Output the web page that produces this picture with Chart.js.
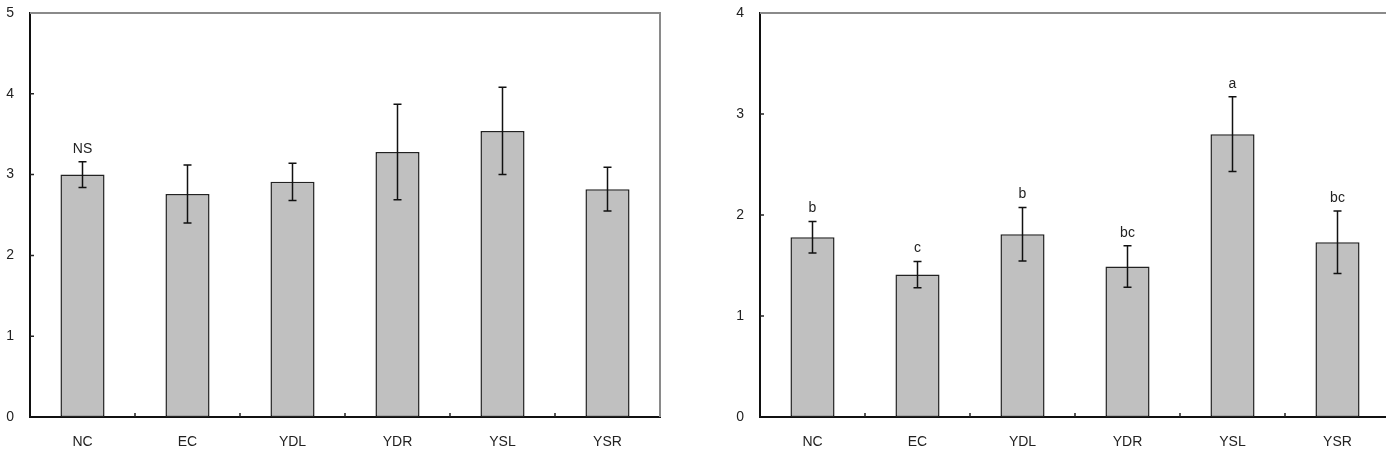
<!DOCTYPE html>
<html>
<head>
<meta charset="utf-8">
<script src="https://cdn.jsdelivr.net/npm/chart.js@4"></script>
<style>
  html, body { margin: 0; padding: 0; background: #fff; overflow: hidden; width: 1386px; height: 450px; }
  .panel { position: absolute; top: 0; width: 680px; height: 450px; }
  #left-panel { left: 0; }
  #right-panel { left: 730px; }
</style>
</head>
<body>
<div class="panel" id="left-panel"><canvas id="left-canvas"></canvas></div>
<div class="panel" id="right-panel"><canvas id="right-canvas"></canvas></div>
<script>
const categories = ["NC", "EC", "YDL", "YDR", "YSL", "YSR"];

const leftValues = [3.0, 2.76, 2.91, 3.28, 3.54, 2.82];
const leftErrors = [0.16, 0.36, 0.23, 0.59, 0.54, 0.27];
const leftLetters = ["NS", "", "", "", "", ""];
const leftTicks = [0, 1, 2, 3, 4, 5];

const rightValues = [1.78, 1.41, 1.81, 1.49, 2.80, 1.73];
const rightErrors = [0.155, 0.13, 0.265, 0.205, 0.37, 0.31];
const rightLetters = ["b", "c", "b", "bc", "a", "bc"];
const rightTicks = [0, 1, 2, 3, 4];

Chart.defaults.font.family = "'Liberation Sans', Arial, sans-serif";
Chart.defaults.font.size = 14;
Chart.defaults.color = "#222";

// error bars, letters, inside tick marks and the grey top/right frame
const decorations = {
  id: "decorations",
  afterDatasetsDraw(chart, args, opts) {
    const ctx = chart.ctx;
    const area = chart.chartArea;
    const x = chart.scales.x;
    const y = chart.scales.y;
    const values = chart.data.datasets[0].data;

    ctx.save();
    // frame top / right
    ctx.strokeStyle = "#8a8a8a";
    ctx.lineWidth = 2;
    ctx.beginPath();
    ctx.moveTo(area.left, area.top);
    ctx.lineTo(area.right, area.top);
    ctx.lineTo(area.right, area.bottom);
    ctx.stroke();

    // inside ticks
    ctx.strokeStyle = "#222";
    ctx.lineWidth = 1.5;
    ctx.beginPath();
    y.ticks.forEach((t) => {
      const py = y.getPixelForValue(t.value);
      if (py > area.top + 2 && py < area.bottom - 2) {
        ctx.moveTo(area.left, py);
        ctx.lineTo(area.left + 4, py);
      }
    });
    for (let i = 0; i < values.length - 1; i++) {
      const px = (x.getPixelForValue(i) + x.getPixelForValue(i + 1)) / 2;
      ctx.moveTo(px, area.bottom);
      ctx.lineTo(px, area.bottom - 4);
    }
    ctx.stroke();

    // error bars
    ctx.strokeStyle = "#111";
    ctx.lineWidth = 1.5;
    ctx.font = "14px 'Liberation Sans', Arial, sans-serif";
    ctx.fillStyle = "#222";
    ctx.textAlign = "center";
    ctx.textBaseline = "bottom";
    values.forEach((v, i) => {
      const px = x.getPixelForValue(i);
      const top = y.getPixelForValue(v + opts.errors[i]);
      const bot = y.getPixelForValue(v - opts.errors[i]);
      ctx.beginPath();
      ctx.moveTo(px, top);
      ctx.lineTo(px, bot);
      ctx.moveTo(px - 4, top);
      ctx.lineTo(px + 4, top);
      ctx.moveTo(px - 4, bot);
      ctx.lineTo(px + 4, bot);
      ctx.stroke();
      if (opts.letters[i]) {
        ctx.fillText(opts.letters[i], px, top - 6);
      }
    });
    ctx.restore();
  },
};

function makeChart(canvasId, values, errors, letters, ticks) {
  const ctx = document.getElementById(canvasId).getContext("2d");
  return new Chart(ctx, {
    type: "bar",
    data: {
      labels: categories,
      datasets: [
        {
          data: values,
          backgroundColor: "#c0c0c0",
          borderColor: "#222",
          borderWidth: 1.5,
          borderSkipped: false,
          categoryPercentage: 1,
          barPercentage: 0.42,
        },
      ],
    },
    options: {
      responsive: true,
      maintainAspectRatio: false,
      animation: false,
      events: [],
      layout: { padding: { top: 13, right: 20, left: 0, bottom: 0 } },
      plugins: {
        legend: { display: false },
        tooltip: { enabled: false },
        decorations: { errors: errors, letters: letters },
      },
      scales: {
        x: {
          grid: { display: false, drawTicks: false },
          border: { color: "#111", width: 2 },
          ticks: { padding: 17, color: "#222" },
          afterFit(scale) {
            scale.height = 33;
            scale.paddingLeft = 0;
            scale.paddingRight = 0;
          },
        },
        y: {
          min: ticks[0],
          max: ticks[ticks.length - 1],
          afterBuildTicks(scale) {
            scale.ticks = ticks.map((v) => ({ value: v }));
          },
          grid: { display: false, drawTicks: false },
          border: { color: "#111", width: 2 },
          ticks: { padding: 16, color: "#222" },
          afterFit(scale) {
            scale.width = 30;
            scale.paddingTop = 0;
            scale.paddingBottom = 0;
          },
        },
      },
    },
    plugins: [decorations],
  });
}

makeChart("left-canvas", leftValues, leftErrors, leftLetters, leftTicks);
makeChart("right-canvas", rightValues, rightErrors, rightLetters, rightTicks);
</script>
</body>
</html>
